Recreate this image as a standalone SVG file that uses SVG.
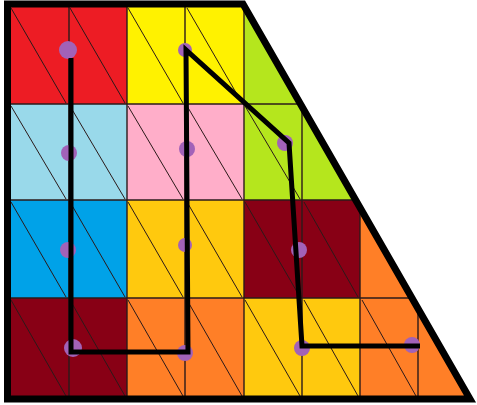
<svg xmlns="http://www.w3.org/2000/svg" width="477" height="405" viewBox="0 0 477 405">
<style>
.grid{stroke:#2b1a1a;stroke-width:1.4;fill:none}
.diag{stroke:#2b1a1a;stroke-width:1;fill:none}
.dot{fill:#a262b8}
.route{stroke:#000;stroke-width:5;fill:none;stroke-linejoin:miter}
.frame{stroke:#000;stroke-width:7;fill:none;stroke-linejoin:miter}
</style>
<defs>
<clipPath id="trap"><polygon points="7.5,4 243,4 470,399 7.5,399"/></clipPath>
</defs>
<rect width="477" height="405" fill="#fff"/>
<g id="cells" clip-path="url(#trap)">
<rect x="8" y="4" width="119" height="100" fill="#ed1c24"/>
<rect x="127" y="4" width="117" height="100" fill="#fff200"/>
<rect x="244" y="4" width="233" height="100" fill="#b5e61d"/>
<rect x="8" y="104" width="119" height="96" fill="#99d9ea"/>
<rect x="127" y="104" width="117" height="96" fill="#ffaec9"/>
<rect x="244" y="104" width="233" height="96" fill="#b5e61d"/>
<rect x="8" y="200" width="119" height="98" fill="#00a2e8"/>
<rect x="127" y="200" width="117" height="98" fill="#ffc90e"/>
<rect x="244" y="200" width="116" height="98" fill="#880015"/>
<rect x="360" y="200" width="117" height="98" fill="#ff7f27"/>
<rect x="8" y="298" width="119" height="101" fill="#880015"/>
<rect x="127" y="298" width="117" height="101" fill="#ff7f27"/>
<rect x="244" y="298" width="116" height="101" fill="#ffc90e"/>
<rect x="360" y="298" width="117" height="101" fill="#ff7f27"/>
<g class="grid">
<line x1="69" y1="4" x2="69" y2="399"/>
<line x1="127" y1="4" x2="127" y2="399"/>
<line x1="185" y1="4" x2="185" y2="399"/>
<line x1="244" y1="4" x2="244" y2="399"/>
<line x1="302" y1="104" x2="302" y2="399"/>
<line x1="360" y1="200" x2="360" y2="399"/>
<line x1="418" y1="298" x2="418" y2="399"/>
<line x1="8" y1="104" x2="477" y2="104"/>
<line x1="8" y1="200" x2="477" y2="200"/>
<line x1="8" y1="298" x2="477" y2="298"/>
</g>
<g class="diag">
<line x1="11" y1="8" x2="66" y2="103"/>
<line x1="70" y1="8" x2="125" y2="103"/>
<line x1="128" y1="8" x2="183" y2="103"/>
<line x1="187" y1="8" x2="242" y2="103"/>
<line x1="11" y1="106" x2="66" y2="199"/>
<line x1="70" y1="106" x2="125" y2="199"/>
<line x1="128" y1="106" x2="183" y2="199"/>
<line x1="187" y1="106" x2="242" y2="199"/>
<line x1="245" y1="106" x2="300" y2="199"/>
<line x1="11" y1="202" x2="66" y2="297"/>
<line x1="70" y1="202" x2="125" y2="297"/>
<line x1="128" y1="202" x2="183" y2="297"/>
<line x1="187" y1="202" x2="242" y2="297"/>
<line x1="245" y1="202" x2="300" y2="297"/>
<line x1="304" y1="202" x2="358" y2="297"/>
<line x1="11" y1="300" x2="66" y2="396"/>
<line x1="70" y1="300" x2="125" y2="396"/>
<line x1="128" y1="300" x2="183" y2="396"/>
<line x1="187" y1="300" x2="242" y2="396"/>
<line x1="245" y1="300" x2="300" y2="396"/>
<line x1="304" y1="300" x2="358" y2="396"/>
<line x1="362" y1="300" x2="416" y2="396"/>
</g>
</g>
<g id="nodes">
<circle id="n1" class="dot" cx="68" cy="50" r="9"/>
<circle id="n2" class="dot" cx="185" cy="50" r="7"/>
<circle id="n3" class="dot" cx="69" cy="153" r="8"/>
<circle id="n4" class="dot" cx="187" cy="149" r="8"/>
<circle id="n5" class="dot" cx="68" cy="250" r="8"/>
<circle id="n6" class="dot" cx="185" cy="245" r="7"/>
<circle id="n7" class="dot" cx="73" cy="348" r="9"/>
<circle id="n8" class="dot" cx="185" cy="353" r="8"/>
<circle id="n9" class="dot" cx="285" cy="143" r="8"/>
<circle id="n10" class="dot" cx="299" cy="250" r="8"/>
<circle id="n11" class="dot" cx="302" cy="348" r="8"/>
<circle id="n12" class="dot" cx="412" cy="345" r="8"/>
</g>
<g id="connectors">
<path class="route" d="M71,58 L71,352 L188,352 L186,50 L289,143 L302,346 L420,346"/>
</g>
<g id="frame">
<polygon class="frame" points="7.5,4 243,4 470,399 7.5,399"/>
</g>
</svg>
